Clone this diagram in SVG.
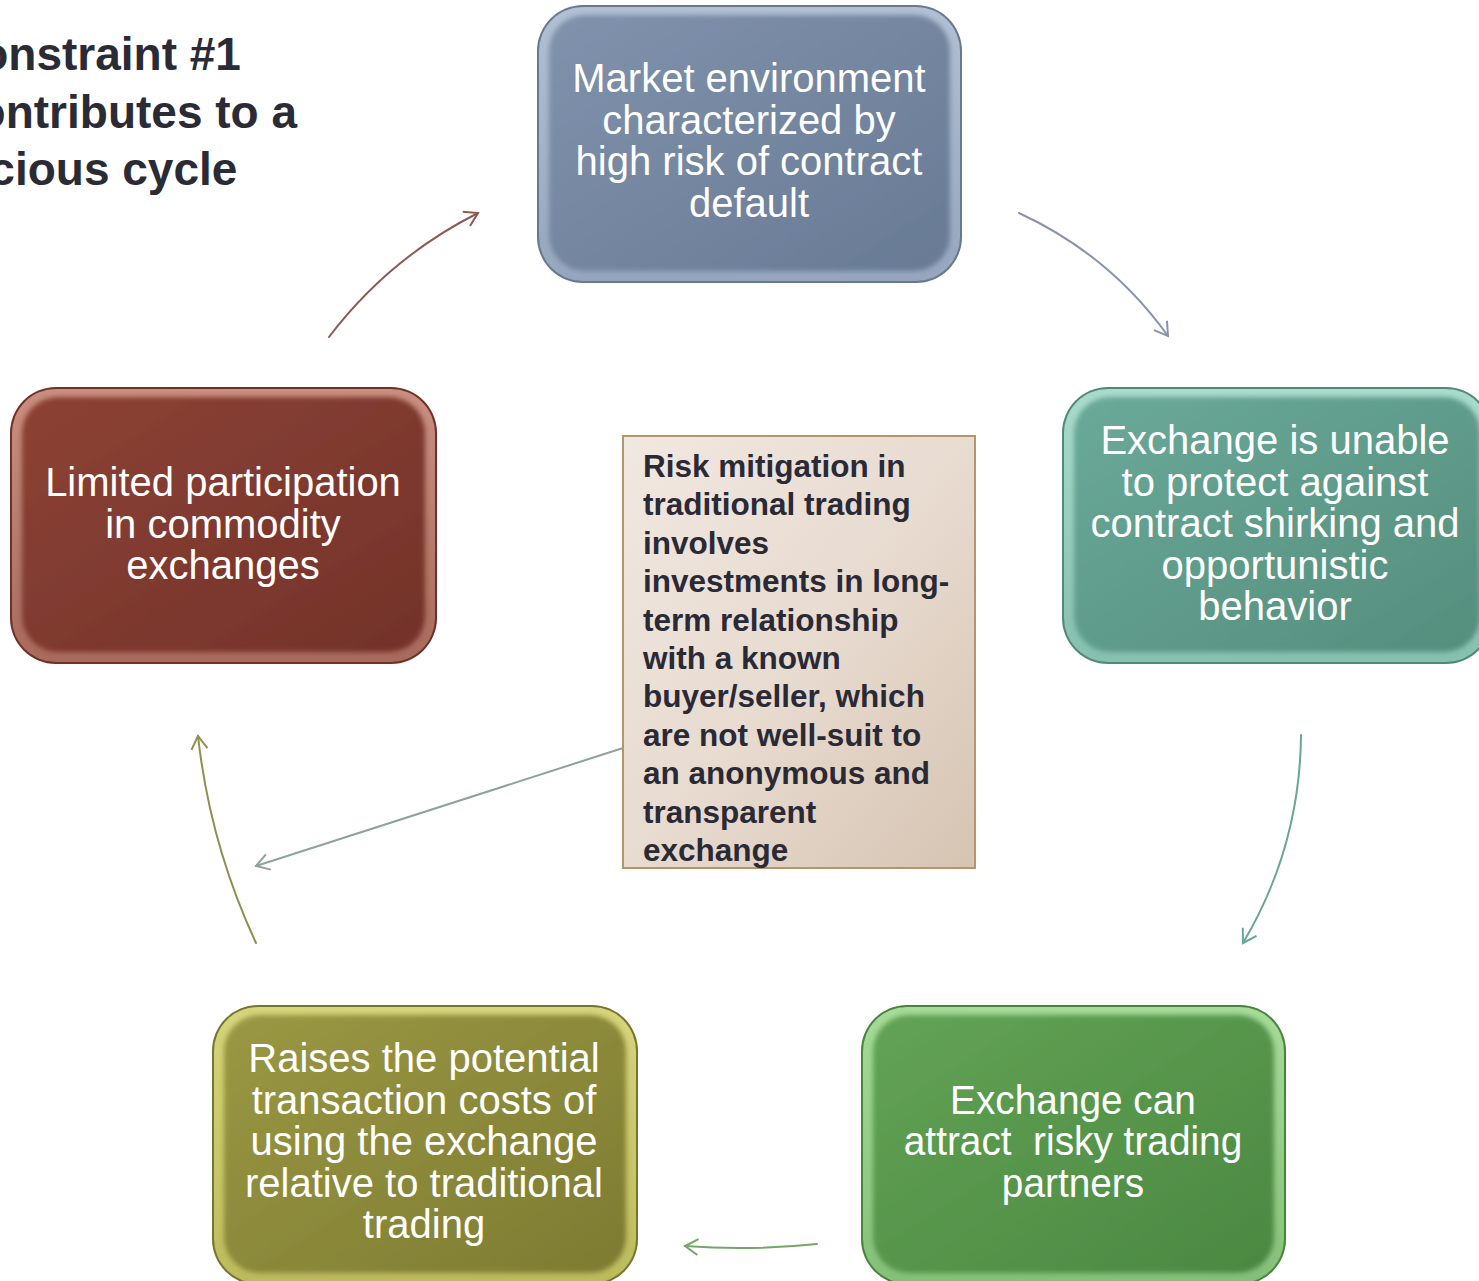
<svg xmlns="http://www.w3.org/2000/svg" width="1479" height="1281" viewBox="0 0 1479 1281">
<style>
.node-text{font-family:"Liberation Sans",Arial,sans-serif;font-size:40px;fill:#ffffff;text-anchor:middle}
.title{font-family:"Liberation Sans",Arial,sans-serif;font-size:46px;font-weight:bold;fill:#2b2b36}
.note{font-family:"Liberation Sans",Arial,sans-serif;font-size:31.5px;font-weight:bold;fill:#2a2a36}
.conn{fill:none;stroke-width:2;stroke-linecap:round}
</style>
<defs>
<filter id="soft" x="-5%" y="-5%" width="110%" height="110%"><feGaussianBlur stdDeviation="2.5"/></filter>
<linearGradient id="gBlue" x1="0" y1="0" x2="1" y2="1"><stop offset="0" stop-color="#8092ac"/><stop offset="1" stop-color="#687a94"/></linearGradient>
<linearGradient id="bBlue" x1="0" y1="0" x2="0" y2="1"><stop offset="0" stop-color="#b2c0d4"/><stop offset="1" stop-color="#95a6be"/></linearGradient>
<linearGradient id="gTeal" x1="0" y1="0" x2="1" y2="1"><stop offset="0" stop-color="#6aa999"/><stop offset="1" stop-color="#558e7d"/></linearGradient>
<linearGradient id="bTeal" x1="0" y1="0" x2="0" y2="1"><stop offset="0" stop-color="#a8dccc"/><stop offset="1" stop-color="#86c0ae"/></linearGradient>
<linearGradient id="gGreen" x1="0" y1="0" x2="1" y2="1"><stop offset="0" stop-color="#62a356"/><stop offset="1" stop-color="#4b8841"/></linearGradient>
<linearGradient id="bGreen" x1="0" y1="0" x2="0" y2="1"><stop offset="0" stop-color="#a6db98"/><stop offset="1" stop-color="#85c078"/></linearGradient>
<linearGradient id="gOlive" x1="0" y1="0" x2="1" y2="1"><stop offset="0" stop-color="#9a9843"/><stop offset="1" stop-color="#7d7b31"/></linearGradient>
<linearGradient id="bOlive" x1="0" y1="0" x2="0" y2="1"><stop offset="0" stop-color="#d6d57c"/><stop offset="1" stop-color="#bcbb5c"/></linearGradient>
<linearGradient id="gRed" x1="0" y1="0" x2="1" y2="1"><stop offset="0" stop-color="#8c4234"/><stop offset="1" stop-color="#73322a"/></linearGradient>
<linearGradient id="bRed" x1="0" y1="0" x2="0" y2="1"><stop offset="0" stop-color="#c98f80"/><stop offset="1" stop-color="#a86a5c"/></linearGradient>
<linearGradient id="gNote" x1="0" y1="0" x2="1" y2="1"><stop offset="0" stop-color="#f1e8e1"/><stop offset="0.5" stop-color="#e8dbd0"/><stop offset="1" stop-color="#d6c4b2"/></linearGradient>
<marker id="mBrown" viewBox="-15 -10 17 20" refX="0" refY="0" markerWidth="17" markerHeight="20" markerUnits="userSpaceOnUse" orient="auto"><path d="M-13,-8 L0,0 L-13,8" fill="none" stroke="#8e5a50" stroke-width="2"/></marker>
<marker id="mSlate" viewBox="-15 -10 17 20" refX="0" refY="0" markerWidth="17" markerHeight="20" markerUnits="userSpaceOnUse" orient="auto"><path d="M-13,-8 L0,0 L-13,8" fill="none" stroke="#8a93ad" stroke-width="2"/></marker>
<marker id="mTeal" viewBox="-15 -10 17 20" refX="0" refY="0" markerWidth="17" markerHeight="20" markerUnits="userSpaceOnUse" orient="auto"><path d="M-13,-8 L0,0 L-13,8" fill="none" stroke="#6aa595" stroke-width="2"/></marker>
<marker id="mGreen" viewBox="-15 -10 17 20" refX="0" refY="0" markerWidth="17" markerHeight="20" markerUnits="userSpaceOnUse" orient="auto"><path d="M-13,-8 L0,0 L-13,8" fill="none" stroke="#74a66a" stroke-width="2"/></marker>
<marker id="mOlive" viewBox="-15 -10 17 20" refX="0" refY="0" markerWidth="17" markerHeight="20" markerUnits="userSpaceOnUse" orient="auto"><path d="M-13,-8 L0,0 L-13,8" fill="none" stroke="#8e9052" stroke-width="2"/></marker>
<marker id="mGrey" viewBox="-15 -10 17 20" refX="0" refY="0" markerWidth="17" markerHeight="20" markerUnits="userSpaceOnUse" orient="auto"><path d="M-13,-8 L0,0 L-13,8" fill="none" stroke="#8da39a" stroke-width="2"/></marker>
</defs>
<rect x="0" y="0" width="1479" height="1281" fill="#ffffff"/>

<g id="title">
<text class="title" x="-53" y="70">Constraint #1</text>
<text class="title" x="-48" y="128">contributes to a</text>
<text class="title" x="-49" y="185">vicious cycle</text>
</g>

<g id="connectors">
<path class="conn" stroke="#8e5a50" d="M329,337 Q389,258 478,213" marker-end="url(#mBrown)"/>
<path class="conn" stroke="#8a93ad" d="M1019,213 Q1110,255 1168,336" marker-end="url(#mSlate)"/>
<path class="conn" stroke="#6aa595" d="M1301,735 Q1300,847 1243,943" marker-end="url(#mTeal)"/>
<path class="conn" stroke="#74a66a" d="M817,1244 Q750,1251 685,1246" marker-end="url(#mGreen)"/>
<path class="conn" stroke="#8e9052" d="M256,943 Q210,844 198,736" marker-end="url(#mOlive)"/>
<path class="conn" stroke="#8da39a" d="M623,748 L256,866" marker-end="url(#mGrey)"/>
</g>

<g id="node-market">
<rect x="537" y="5" width="425" height="278" rx="46" fill="#677891"/>
<rect x="539" y="7" width="421" height="274" rx="44" fill="url(#bBlue)"/>
<rect x="549" y="15" width="401" height="256" rx="36" fill="url(#gBlue)" filter="url(#soft)"/>
<text class="node-text" x="749" y="92">Market environment</text>
<text class="node-text" x="749" y="133.5">characterized by</text>
<text class="node-text" x="749" y="175">high risk of contract</text>
<text class="node-text" x="749" y="216.5">default</text>
</g>

<g id="node-unable">
<rect x="1062" y="387" width="430" height="277" rx="46" fill="#518878"/>
<rect x="1064" y="389" width="426" height="273" rx="44" fill="url(#bTeal)"/>
<rect x="1074" y="397" width="406" height="255" rx="36" fill="url(#gTeal)" filter="url(#soft)"/>
<text class="node-text" x="1275" y="454">Exchange is unable</text>
<text class="node-text" x="1275" y="495.5">to protect against</text>
<text class="node-text" x="1275" y="537">contract shirking and</text>
<text class="node-text" x="1275" y="578.5">opportunistic</text>
<text class="node-text" x="1275" y="620">behavior</text>
</g>

<g id="node-attract">
<rect x="861" y="1005" width="425" height="280" rx="46" fill="#4a8240"/>
<rect x="863" y="1007" width="421" height="276" rx="44" fill="url(#bGreen)"/>
<rect x="873" y="1015" width="401" height="258" rx="36" fill="url(#gGreen)" filter="url(#soft)"/>
<g transform="translate(1073,0) scale(0.97,1)">
<text class="node-text" x="0" y="1114">Exchange can</text>
<text class="node-text" x="0" y="1155.5" style="white-space:pre">attract  risky trading</text>
<text class="node-text" x="0" y="1197">partners</text>
</g>
</g>

<g id="node-raises">
<rect x="212" y="1005" width="426" height="280" rx="46" fill="#767430"/>
<rect x="214" y="1007" width="422" height="276" rx="44" fill="url(#bOlive)"/>
<rect x="224" y="1015" width="402" height="258" rx="36" fill="url(#gOlive)" filter="url(#soft)"/>
<text class="node-text" x="424" y="1072">Raises the potential</text>
<text class="node-text" x="424" y="1113.5">transaction costs of</text>
<text class="node-text" x="424" y="1155">using the exchange</text>
<text class="node-text" x="424" y="1196.5">relative to traditional</text>
<text class="node-text" x="424" y="1238">trading</text>
</g>

<g id="node-limited">
<rect x="10" y="387" width="427" height="277" rx="46" fill="#6e3027"/>
<rect x="12" y="389" width="423" height="273" rx="44" fill="url(#bRed)"/>
<rect x="22" y="397" width="403" height="255" rx="36" fill="url(#gRed)" filter="url(#soft)"/>
<text class="node-text" x="223" y="496">Limited participation</text>
<text class="node-text" x="223" y="537.5">in commodity</text>
<text class="node-text" x="223" y="579">exchanges</text>
</g>

<g id="node-risk">
<rect x="623" y="436" width="352" height="432" fill="url(#gNote)" stroke="#b4956c" stroke-width="2"/>
<text class="note" x="643" y="477">Risk mitigation in</text>
<text class="note" x="643" y="515.4">traditional trading</text>
<text class="note" x="643" y="553.8">involves</text>
<text class="note" x="643" y="592.2">investments in long-</text>
<text class="note" x="643" y="630.6">term relationship</text>
<text class="note" x="643" y="669">with a known</text>
<text class="note" x="643" y="707.4">buyer/seller, which</text>
<text class="note" x="643" y="745.8">are not well-suit to</text>
<text class="note" x="643" y="784.2">an anonymous and</text>
<text class="note" x="643" y="822.6">transparent</text>
<text class="note" x="643" y="861">exchange</text>
</g>
</svg>
